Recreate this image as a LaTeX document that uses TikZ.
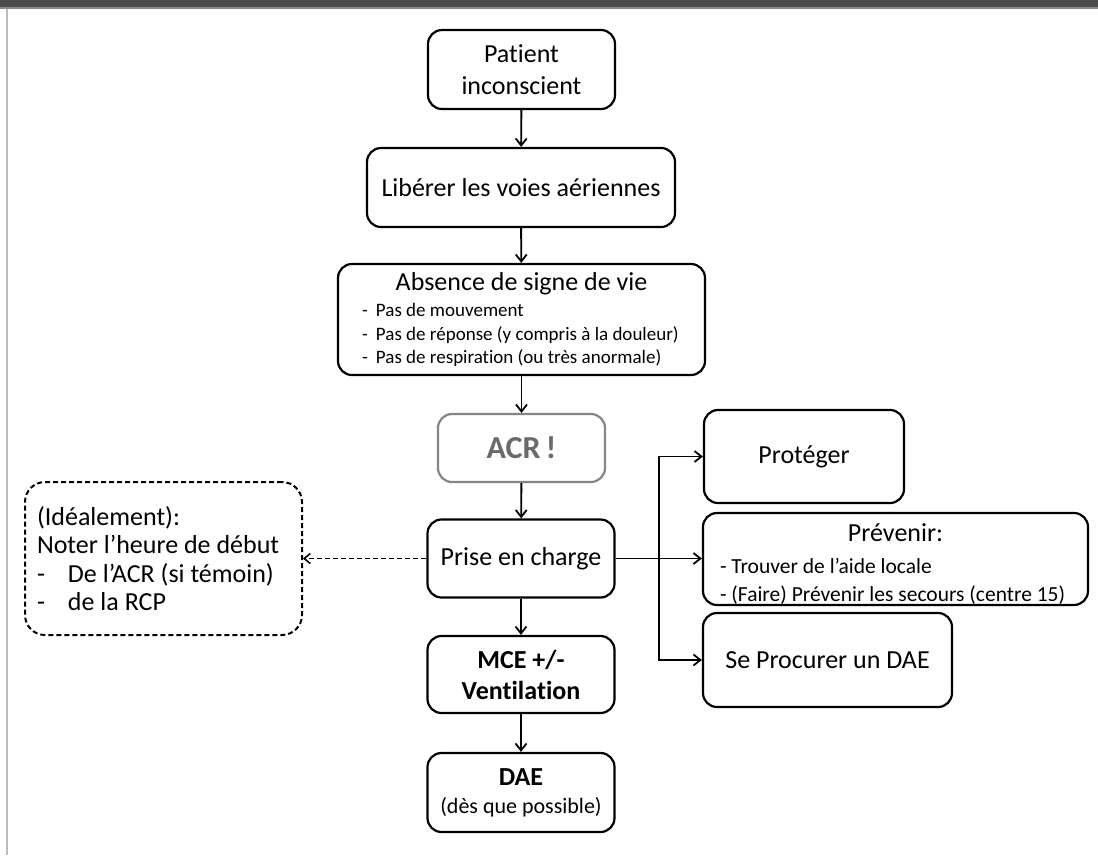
\documentclass[tikz,border=0pt]{standalone}
\usepackage{fontspec}
\setmainfont{Carlito}[Ligatures=NoCommon]
\usetikzlibrary{arrows.meta}
\definecolor{barcol}{HTML}{4D4D4D}
\definecolor{barline}{HTML}{8A8A8A}
\definecolor{leftline}{HTML}{BBBBBB}
\definecolor{acrborder}{HTML}{858585}
\definecolor{acrtext}{HTML}{6A6A6A}
\begin{document}
\begin{tikzpicture}[x=1pt,y=-1pt,
  box/.style={draw=black, line width=2.2pt, rounded corners=14pt, inner sep=0pt,
    align=center, font=\fontsize{26}{32}\selectfont},
  notebox/.style={draw=black, line width=2pt, rounded corners=20pt, inner sep=0pt,
    dash pattern=on 5pt off 3pt, align=center, font=\fontsize{26}{28.5}\selectfont},
  conn/.style={line width=1.9pt, -{Straight Barb[length=7pt,width=11pt,line width=1.8pt]}},
  dconn/.style={line width=1.9pt, dash pattern=on 5pt off 3pt,
    -{Straight Barb[length=6pt,width=10pt,line width=1.6pt]}},
]
\useasboundingbox (0,0) rectangle (1098,855);
\fill[white] (0,0) rectangle (1098,855);
\fill[barcol] (0,0) rectangle (1098,7);
\fill[barline] (0,7) rectangle (1098,9);
\fill[leftline] (6,9) rectangle (8,855);

% main column
\node[box, minimum width=187pt, minimum height=79pt] (pat) at (521.5,69.5) {Patient\\inconscient};
\node[box, minimum width=308pt, minimum height=79pt] (lib) at (521,187.5) {Libérer les voies aériennes};
\node[box, minimum width=367pt, minimum height=111pt, font=\fontsize{19}{23.5}\selectfont] (abs) at (521.5,319.5)
  {{\fontsize{26}{26}\selectfont Absence de signe de vie}\\[3pt]
   \makebox[329pt][l]{\hspace*{5pt}\makebox[14pt][l]{-}Pas de mouvement}\\
   \makebox[329pt][l]{\hspace*{5pt}\makebox[14pt][l]{-}Pas de réponse (y compris à la douleur)}\\
   \makebox[329pt][l]{\hspace*{5pt}\makebox[14pt][l]{-}Pas de respiration (ou très anormale)}};
\node[box, draw=acrborder, text=acrtext, minimum width=167pt, minimum height=68pt,
  font=\fontsize{32}{36}\selectfont\bfseries] (acr) at (521.5,448) {ACR\,!};
\node[box, minimum width=187pt, minimum height=78pt] (prise) at (521,558.5) {Prise en charge};
\node[box, minimum width=187pt, minimum height=77pt, font=\fontsize{26}{31}\selectfont\bfseries] (mce) at (521,674.5) {MCE +/-\\Ventilation};
\node[box, minimum width=187pt, minimum height=79pt, font=\fontsize{26}{28}\selectfont] (dae) at (521,792.5)
  {{\bfseries DAE}\\{\fontsize{22}{28}\selectfont (dès que possible)}};

% right column
\node[box, minimum width=200pt, minimum height=93pt] (prot) at (804,456.5) {Protéger};
\node[box, minimum width=385pt, minimum height=92pt, font=\fontsize{21.5}{27.5}\selectfont] (prev) at (895.5,559)
  {\rule{0pt}{27pt}{\fontsize{26}{28}\selectfont Prévenir:}\\[5pt]
   \makebox[351pt][l]{- Trouver de l’aide locale}\\
   \makebox[351pt][l]{- (Faire) Prévenir les secours (centre 15)}};
\node[box, minimum width=249pt, minimum height=94pt] (proc) at (827.5,660) {Se Procurer un DAE};

% left note
\node[notebox, minimum width=277pt, minimum height=153pt] (note) at (163.5,558.5)
  {\makebox[253pt][l]{(Idéalement):}\\
   \makebox[253pt][l]{Noter l’heure de début}\\
   \makebox[253pt][l]{\makebox[31pt][l]{-}De l’ACR (si témoin)}\\
   \makebox[253pt][l]{\makebox[31pt][l]{-}de la RCP}};

% connectors
\draw[conn] (pat) -- (lib);
\draw[conn] (lib) -- (abs);
\draw[conn] (abs) -- (acr);
\draw[conn] (acr) -- (prise);
\draw[conn] (prise) -- (mce);
\draw[conn] (mce) -- (dae);
\coordinate (tr) at (659,559);
\draw[conn] (prise.east) -- (prise.east -| prev.west);
\draw[conn] (tr) |- (prot.west);
\draw[conn] (tr) |- (proc.west);
\draw[dconn] (prise.west) -- (note.east);
\end{tikzpicture}
\end{document}
